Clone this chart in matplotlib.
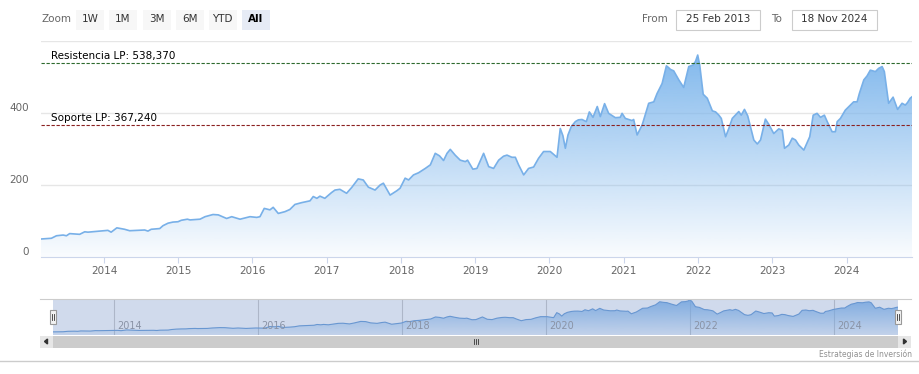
import numpy as np
import pandas as pd
import matplotlib
matplotlib.use("Agg")
import matplotlib.pyplot as plt
import matplotlib.dates as mdates
import matplotlib.colors as mcolors
from matplotlib.patches import Rectangle, Polygon
from matplotlib.lines import Line2D
from matplotlib.transforms import ScaledTranslation

# weekly-ish closes
dates = [
    "2013-02-25", "2013-04-17", "2013-05-12", "2013-06-14", "2013-06-30", "2013-07-16",
    "2013-09-03", "2013-09-28", "2013-10-14", "2014-01-04", "2014-01-20", "2014-02-05",
    "2014-03-05", "2014-04-12", "2014-05-07", "2014-07-20", "2014-08-05", "2014-08-21",
    "2014-10-02", "2014-10-18", "2014-11-12", "2014-12-06", "2014-12-31", "2015-01-16",
    "2015-02-15", "2015-02-28", "2015-04-18", "2015-05-13", "2015-06-21", "2015-07-17",
    "2015-08-27", "2015-09-21", "2015-11-01", "2015-12-20", "2016-01-22", "2016-02-07",
    "2016-02-28", "2016-03-27", "2016-04-12", "2016-05-07", "2016-06-09", "2016-07-03",
    "2016-07-28", "2016-08-30", "2016-10-10", "2016-10-26", "2016-11-13", "2016-11-28",
    "2016-12-22", "2017-01-24", "2017-02-10", "2017-03-06", "2017-04-08", "2017-05-03",
    "2017-06-04", "2017-06-29", "2017-07-24", "2017-08-26", "2017-09-20", "2017-10-06",
    "2017-11-08", "2017-12-11", "2017-12-27", "2018-01-21", "2018-02-07", "2018-03-03",
    "2018-03-28", "2018-04-30", "2018-05-25", "2018-06-18", "2018-07-09", "2018-07-29",
    "2018-08-15", "2018-08-31", "2018-09-24", "2018-10-19", "2018-11-13", "2018-11-24",
    "2018-12-20", "2019-01-09", "2019-02-11", "2019-03-08", "2019-04-01", "2019-04-26",
    "2019-05-20", "2019-06-06", "2019-06-30", "2019-07-17", "2019-08-02", "2019-08-27",
    "2019-09-20", "2019-10-15", "2019-11-08", "2019-12-03", "2020-01-05", "2020-02-07",
    "2020-02-23", "2020-03-07", "2020-03-19", "2020-04-01", "2020-04-17", "2020-05-07",
    "2020-05-22", "2020-06-09", "2020-06-30", "2020-07-15", "2020-08-02", "2020-08-23",
    "2020-09-07", "2020-09-28", "2020-10-18", "2020-11-20", "2020-12-14", "2020-12-23",
    "2021-01-08", "2021-02-10", "2021-02-18", "2021-03-07", "2021-04-01", "2021-05-03",
    "2021-05-28", "2021-06-13", "2021-07-08", "2021-07-29", "2021-08-09", "2021-08-18",
    "2021-09-03", "2021-09-28", "2021-10-22", "2021-11-16", "2021-12-06", "2021-12-19",
    "2021-12-30", "2022-01-09", "2022-01-26", "2022-02-15", "2022-03-12", "2022-03-28",
    "2022-04-13", "2022-04-25", "2022-05-16", "2022-06-01", "2022-06-18", "2022-07-20",
    "2022-08-01", "2022-08-17", "2022-09-02", "2022-10-02", "2022-10-19", "2022-11-04",
    "2022-11-28", "2022-12-14", "2023-01-08", "2023-02-02", "2023-02-19", "2023-03-02",
    "2023-03-23", "2023-04-09", "2023-04-25", "2023-05-11", "2023-06-05", "2023-07-04",
    "2023-07-21", "2023-08-09", "2023-08-26", "2023-09-14", "2023-09-28", "2023-10-22",
    "2023-11-07", "2023-11-16", "2023-12-02", "2023-12-26", "2024-01-20", "2024-02-05",
    "2024-02-22", "2024-03-04", "2024-03-26", "2024-04-11", "2024-04-27", "2024-05-22",
    "2024-06-07", "2024-06-24", "2024-07-05", "2024-07-26", "2024-08-17", "2024-09-08",
    "2024-09-30", "2024-10-16", "2024-10-27", "2024-11-09", "2024-11-18",
]
values = [
    50, 52, 59, 61, 59, 65,
    63, 70, 69, 73, 74, 69,
    81, 77, 73, 75, 72, 77,
    79, 87, 94, 97, 98, 102,
    105, 103, 105, 112, 118, 117,
    107, 112, 105, 112, 110, 112,
    135, 131, 138, 121, 126, 132,
    146, 151, 156, 168, 163, 169,
    163, 179, 186, 188, 177, 193,
    217, 214, 194, 186, 200, 205,
    172, 184, 191, 219, 214, 228,
    234, 246, 256, 288, 281, 268,
    288, 299, 283, 269, 265, 269,
    244, 246, 288, 251, 246, 269,
    280, 283, 277, 277, 256, 228,
    246, 250, 274, 293, 293, 277,
    357, 337, 302, 339, 362, 376,
    381, 382, 376, 403, 388, 418,
    390, 426, 399, 387, 388, 399,
    385, 379, 382, 339, 367, 427,
    431, 454, 482, 531, 526, 521,
    517, 492, 471, 529, 533, 543,
    561, 533, 452, 441, 406, 403,
    394, 385, 334, 357, 385, 404,
    394, 410, 392, 325, 314, 325,
    383, 369, 343, 356, 352, 302,
    311, 330, 325, 311, 297, 334,
    394, 399, 388, 394, 376, 348,
    348, 376, 385, 408, 422, 431,
    431, 454, 492, 503, 519, 515,
    524, 529, 515, 427, 444, 410,
    427, 422, 429, 441, 445,
]

resistencia = 538.370
soporte = 367.240
y_ticks = [0, 200, 400]
zoom_buttons = ["1W", "1M", "3M", "6M", "YTD", "All"]
date_from = "25 Feb 2013"
date_to = "18 Nov 2024"

W, H = 919, 374
d = pd.to_datetime(dates)
v = np.array(values, dtype=float)

fig = plt.figure(figsize=(W / 100, H / 100), dpi=100)


def fr(x0, y0, x1, y1):
    return [x0 / W, 1 - y1 / H, (x1 - x0) / W, (y1 - y0) / H]


def prect(x0, y0, x1, y1, **kw):
    r = Rectangle((x0 / W, 1 - y1 / H), (x1 - x0) / W, (y1 - y0) / H,
                  transform=fig.transFigure, **kw)
    fig.add_artist(r)
    return r


def ptext(x, y, s, **kw):
    return fig.text(x / W, 1 - y / H, s, **kw)


def pline(x0, y0, x1, y1, **kw):
    fig.add_artist(Line2D([x0 / W, x1 / W], [1 - y0 / H, 1 - y1 / H],
                          transform=fig.transFigure, **kw))


def grad_area(ax, x, y, ytop, color, a_top, a_bot, z):
    poly = ax.fill_between(x, y, 0, color="none", lw=0)
    path = poly.get_paths()[0]
    rgb = mcolors.to_rgb(color)
    img = np.zeros((256, 1, 4))
    img[..., :3] = rgb
    img[..., 3] = np.linspace(a_top, a_bot, 256)[:, None]
    xn = mdates.date2num(x)
    im = ax.imshow(img, aspect="auto", origin="upper",
                   extent=[xn[0], xn[-1], 0, ytop], zorder=z, interpolation="bilinear")
    im.set_clip_path(path, transform=ax.transData)


# ---------------- main chart ----------------
ax = fig.add_axes(fr(41, 41, 912, 257))
grad_area(ax, d, v, v.max(), "#7cb5ec", 0.95, 0.04, 1)
ax.plot(d, v, color="#78b0e8", lw=1.2, zorder=3)
ax.set_xlim(d[0], d[-1])
ax.set_ylim(0, 600)

for g in [200, 400, 600]:
    ax.axhline(g, color="#e6e6e6", lw=1, zorder=0)

for s in ["top", "left", "right"]:
    ax.spines[s].set_visible(False)
ax.spines["bottom"].set_color("#ccd6eb")
ax.set_yticks([])
ax.xaxis.set_major_locator(mdates.YearLocator())
ax.xaxis.set_major_formatter(mdates.DateFormatter("%Y"))
ax.tick_params(axis="x", length=4.5, color="#ccd6eb", labelcolor="#666666",
               labelsize=7.5, pad=2)

lab_tr = ax.get_yaxis_transform() + ScaledTranslation(-0.12, 0.05, fig.dpi_scale_trans)
for t in y_ticks:
    ax.text(0, t, str(t), transform=lab_tr, ha="right", va="center",
            fontsize=7.5, color="#666666")

ax.axhline(resistencia, color="#2d6a2d", lw=0.8, ls=(0, (3, 1.5)), zorder=4)
ax.axhline(soporte, color="#8b2020", lw=0.8, ls=(0, (3, 1.5)), zorder=4)
txt_tr = ax.get_yaxis_transform() + ScaledTranslation(0, 0.02, fig.dpi_scale_trans)
ax.text(0.0115, resistencia, "Resistencia LP: " + f"{resistencia:.3f}".replace(".", ","),
        transform=txt_tr, fontsize=7.5, va="bottom", color="black", zorder=5)
ax.text(0.0115, soporte, "Soporte LP: " + f"{soporte:.3f}".replace(".", ","),
        transform=txt_tr, fontsize=7.5, va="bottom", color="black", zorder=5)

# ---------------- navigator ----------------
nav = fig.add_axes(fr(53, 299, 898, 335))
nav.set_facecolor("white")
grad_area(nav, d, v, v.max(), "#7cb5ec", 0.9, 0.15, 1)
nav.plot(d, v, color="#6a9fd8", lw=0.8, zorder=3)
nav.set_xlim(d[0], d[-1])
nav.set_ylim(0, 575)
nav.set_xticks([])
nav.set_yticks([])
for s in nav.spines.values():
    s.set_visible(False)
lab_nav = nav.get_xaxis_transform() + ScaledTranslation(0.03, 0, fig.dpi_scale_trans)
for yr in range(2014, 2025, 2):
    dt = pd.Timestamp(f"{yr}-01-01")
    nav.axvline(dt, color="#cccccc", lw=0.8, zorder=0.5)
    nav.text(dt, 0.24, str(yr), transform=lab_nav, fontsize=7,
             color="#999999", ha="left", va="center", zorder=4)
nav.axvspan(d[0], d[-1], color=(102 / 255, 133 / 255, 194 / 255), alpha=0.3, lw=0, zorder=5)
pline(40, 299, 911, 299, color="#cccccc", lw=0.8)

# handles
for hx in [53, 898]:
    prect(hx - 3.3, 310, hx + 3.3, 323.5, facecolor="#f2f2f2", edgecolor="#999999", lw=0.8)
    pline(hx - 1, 313.5, hx - 1, 320, color="#333333", lw=0.6)
    pline(hx + 1, 313.5, hx + 1, 320, color="#333333", lw=0.6)

# scrollbar
prect(40, 335.5, 911, 347.5, facecolor="#f2f2f2", edgecolor="none")
prect(53, 335.5, 898, 347.5, facecolor="#cccccc", edgecolor="none")
prect(40, 335.5, 53, 347.5, facecolor="#e6e6e6", edgecolor="none")
prect(898, 335.5, 911, 347.5, facecolor="#e6e6e6", edgecolor="none")
fig.add_artist(Polygon([[47.5 / W, 1 - 339 / H], [47.5 / W, 1 - 344 / H], [44.5 / W, 1 - 341.5 / H]],
                       closed=True, transform=fig.transFigure, color="#333333"))
fig.add_artist(Polygon([[903.5 / W, 1 - 339 / H], [903.5 / W, 1 - 344 / H], [906.5 / W, 1 - 341.5 / H]],
                       closed=True, transform=fig.transFigure, color="#333333"))
for gx in [474, 476, 478]:
    pline(gx, 339, gx, 344, color="#333333", lw=0.6)

pline(0, 361, 919, 361, color="#cccccc", lw=1)
ptext(912, 354, "Estrategias de Inversión", fontsize=5.5, color="#909090",
      ha="right", va="center")

# ---------------- range selector ----------------
ptext(42, 19.5, "Zoom", fontsize=7.5, color="#666666", ha="left", va="center")
btn_x = [76, 109, 142.5, 176, 208.5, 242]
for lab, bx in zip(zoom_buttons, btn_x):
    sel = lab == "All"
    prect(bx, 10, bx + 28, 29.5, facecolor="#e6ebf5" if sel else "#f7f7f7", edgecolor="none")
    ptext(bx + 14, 19.5, lab, fontsize=7.5, color="black" if sel else "#333333",
          ha="center", va="center", fontweight="bold" if sel else "normal")

ptext(642, 19.5, "From", fontsize=7.5, color="#666666", ha="left", va="center")
prect(676, 10, 760, 29.5, facecolor="white", edgecolor="#cccccc", lw=0.8)
ptext(718, 19.5, date_from, fontsize=7.5, color="#333333", ha="center", va="center")
ptext(771, 19.5, "To", fontsize=7.5, color="#666666", ha="left", va="center")
prect(791.5, 10, 876.5, 29.5, facecolor="white", edgecolor="#cccccc", lw=0.8)
ptext(834, 19.5, date_to, fontsize=7.5, color="#333333", ha="center", va="center")

fig.savefig("out.png", dpi=100)
